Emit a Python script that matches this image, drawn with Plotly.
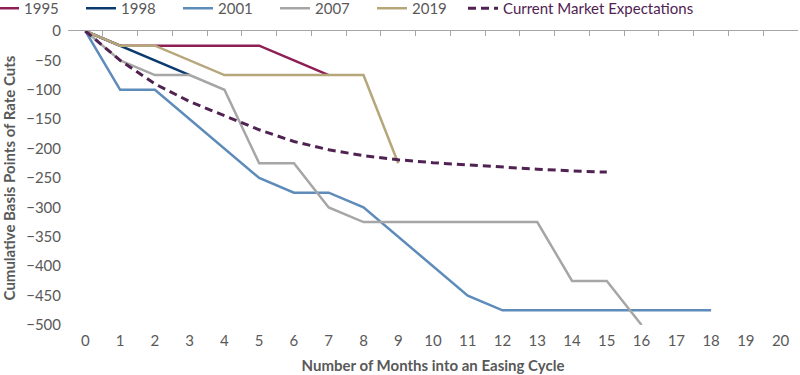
import plotly.graph_objects as go

months_1995 = [0, 1, 2, 3, 4, 5, 6, 7]
cuts_1995 = [0, -25, -25, -25, -25, -25, -50, -75]

months_1998 = [0, 1, 2, 3]
cuts_1998 = [0, -25, -50, -75]

months_2001 = list(range(0, 19))
cuts_2001 = [0, -100, -100, -150, -200, -250, -275, -275, -300, -350, -400,
             -450, -475, -475, -475, -475, -475, -475, -475]

months_2007 = list(range(0, 17))
cuts_2007 = [0, -50, -75, -75, -100, -225, -225, -300, -325, -325, -325,
             -325, -325, -325, -425, -425, -500]

months_2019 = list(range(0, 10))
cuts_2019 = [0, -25, -25, -50, -75, -75, -75, -75, -75, -225]

months_current = list(range(0, 16))
cuts_current = [0, -50, -90, -120, -144, -168, -188, -202, -212, -219, -224,
                -228, -232, -235, -238, -240]

x_ticks = list(range(0, 21))
y_ticks = list(range(-500, 1, 50))

GREY = "#595959"
FONT = "Lato"

series = [
    ("1995", months_1995, cuts_1995, "#8E1F55"),
    ("1998", months_1998, cuts_1998, "#0B3B6E"),
    ("2001", months_2001, cuts_2001, "#5D8BBA"),
    ("2007", months_2007, cuts_2007, "#A6A6A6"),
    ("2019", months_2019, cuts_2019, "#B6A77B"),
]

fig = go.Figure()
for name, xs, ys, color in series:
    fig.add_trace(go.Scatter(x=xs, y=ys, name=name, mode="lines",
                             legend="legend",
                             line=dict(color=color, width=2.5)))

fig.add_trace(go.Scatter(
    x=months_current, y=cuts_current,
    name="Current Market Expectations", legend="legend2",
    mode="lines", line=dict(color="#4F2252", width=3, dash="8px,5px")))

# dummy trace to activate the top axis (tick marks at category boundaries)
fig.add_trace(go.Scatter(x=[0], y=[None], xaxis="x2", showlegend=False,
                         hoverinfo="skip", mode="lines"))

W, H = 800, 375
ml, mr, mt, mb = 68, 2, 31, 50
pw = W - ml - mr
ph = H - mt - mb

fig.update_layout(
    width=W, height=H,
    margin=dict(l=ml, r=mr, t=mt, b=mb, autoexpand=False),
    paper_bgcolor="white", plot_bgcolor="white",
    font=dict(family=FONT, size=15, color=GREY),
    showlegend=True,
    legend=dict(orientation="h",
                x=(-16 - ml) / pw, xanchor="left",
                y=1 + (mt + 8) / ph, yanchor="top",
                font=dict(family=FONT, size=15, color=GREY),
                entrywidth=52, entrywidthmode="pixels",
                itemwidth=30, bgcolor="rgba(0,0,0,0)"),
    legend2=dict(orientation="h",
                 x=(463 - ml) / pw, xanchor="left",
                 y=1 + (mt + 8) / ph, yanchor="top",
                 font=dict(family=FONT, size=15, color="#4F2252"),
                 itemwidth=30, bgcolor="rgba(0,0,0,0)"),
    xaxis=dict(range=[-0.5, 20.5], tickmode="array", tickvals=x_ticks,
               ticktext=[str(v) for v in x_ticks], automargin=False,
               showgrid=False, zeroline=False, showline=False, ticks="",
               ticklabelstandoff=5,
               tickfont=dict(family=FONT, size=15, color=GREY),
               title=dict(text="<b>Number of Months into an Easing Cycle</b>",
                          font=dict(family=FONT, size=15, color=GREY),
                          standoff=12)),
    xaxis2=dict(range=[-0.5, 20.5], overlaying="x", side="top", anchor="y",
                tickmode="array", tickvals=[v - 0.5 for v in range(0, 22)],
                showticklabels=False, ticks="inside", ticklen=5,
                tickcolor="#A6A6A6", showline=True, linecolor="#A6A6A6",
                linewidth=1, showgrid=False, zeroline=False, automargin=False),
    yaxis=dict(range=[-500, 0], tickmode="array", tickvals=y_ticks,
               showgrid=False, zeroline=False, showline=False, ticks="",
               ticklabelstandoff=6, automargin=False,
               tickfont=dict(family=FONT, size=15, color=GREY),
               title=dict(text="<b>Cumulative Basis Points of Rate Cuts</b>",
                          font=dict(family=FONT, size=15, color=GREY),
                          standoff=8)),
)

fig.write_html("out.html",
               config={"displayModeBar": False},
               post_script="document.body.style.margin='0px';"
                           "document.body.style.overflow='hidden';")
